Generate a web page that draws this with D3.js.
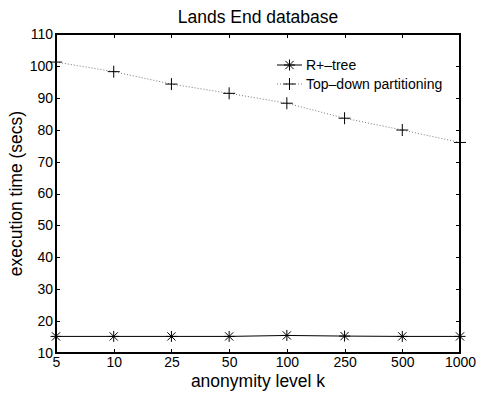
<!DOCTYPE html>
<html>
<head>
<meta charset="utf-8">
<script src="https://cdn.jsdelivr.net/npm/d3@7"></script>
<style>
  html, body { margin: 0; padding: 0; background: #fff; }
  svg { display: block; font-family: "Liberation Sans", Arial, sans-serif; }
</style>
</head>
<body>
<div id="chart"></div>
<script>
// data
var kLevels = ["5", "10", "25", "50", "100", "250", "500", "1000"];
var rtreeTimes = [15.2, 15.2, 15.2, 15.2, 15.5, 15.3, 15.2, 15.2];
var topDownTimes = [101.2, 98.2, 94.3, 91.4, 88.3, 83.6, 79.9, 76.0];
var yTicks = [10, 20, 30, 40, 50, 60, 70, 80, 90, 100, 110];

var width = 477, height = 393;
var plotLeft = 56, plotRight = 460, plotTop = 34, plotBottom = 353;

var svg = d3.select("#chart")
    .append("svg")
    .attr("width", width)
    .attr("height", height);

var x = d3.scalePoint()
    .domain(kLevels)
    .range([plotLeft, plotRight]);

var y = d3.scaleLinear()
    .domain([10, 110])
    .range([plotBottom, plotTop]);

//------------------- axes (ticks inside, matlab style) -------------------\\
var tickFont = 14;

var xAxis = svg.append("g")
    .attr("transform", "translate(0," + plotBottom + ")")
    .call(d3.axisBottom(x).tickSizeInner(-4).tickSizeOuter(0).tickPadding(4.5));
var xTop = svg.append("g")
    .attr("transform", "translate(0," + plotTop + ")")
    .call(d3.axisTop(x).tickSizeInner(-4).tickSizeOuter(0).tickFormat(""));
var yAxis = svg.append("g")
    .attr("transform", "translate(" + plotLeft + ",0)")
    .call(d3.axisLeft(y).tickValues(yTicks).tickSizeInner(-4).tickSizeOuter(0).tickPadding(3));
var yRight = svg.append("g")
    .attr("transform", "translate(" + plotRight + ",0)")
    .call(d3.axisRight(y).tickValues(yTicks).tickSizeInner(-4).tickSizeOuter(0).tickFormat(""));

[xAxis, xTop, yAxis, yRight].forEach(function(a) {
    a.select(".domain").remove();
    a.selectAll("line").attr("stroke", "#000").attr("shape-rendering", "crispEdges");
    a.selectAll("text")
        .attr("fill", "#000")
        .style("font-family", '"Liberation Sans", Arial, sans-serif')
        .style("font-size", tickFont + "px");
});

svg.append("rect")
    .attr("x", plotLeft)
    .attr("y", plotTop)
    .attr("width", plotRight - plotLeft)
    .attr("height", plotBottom - plotTop)
    .attr("fill", "none")
    .attr("stroke", "#000")
    .attr("stroke-width", 1.6)
    .attr("shape-rendering", "crispEdges");

//------------------- lines -------------------\\
var line = d3.line()
    .x(function(d) { return x(d.k); })
    .y(function(d) { return y(d.v); });

var rtree = kLevels.map(function(k, i) { return { k: k, v: rtreeTimes[i] }; });
var topDown = kLevels.map(function(k, i) { return { k: k, v: topDownTimes[i] }; });

svg.append("path")
    .datum(topDown)
    .attr("d", line)
    .attr("fill", "none")
    .attr("stroke", "#777")
    .attr("stroke-width", 1)
    .attr("stroke-dasharray", "1,2");

svg.append("path")
    .datum(rtree)
    .attr("d", line)
    .attr("fill", "none")
    .attr("stroke", "#000")
    .attr("stroke-width", 1);

// marker shapes
function plusPath(cx, cy, r) {
    return "M" + (cx - r) + "," + cy + "H" + (cx + r) + "M" + cx + "," + (cy - r) + "V" + (cy + r);
}
function starPath(cx, cy, r) {
    var d = r * 0.75;
    return plusPath(cx, cy, r) +
        "M" + (cx - d) + "," + (cy - d) + "L" + (cx + d) + "," + (cy + d) +
        "M" + (cx - d) + "," + (cy + d) + "L" + (cx + d) + "," + (cy - d);
}

svg.selectAll(".td-marker")
    .data(topDown)
    .join("path")
    .attr("class", "td-marker")
    .attr("d", function(d) { return plusPath(x(d.k), y(d.v), 6); })
    .attr("stroke", "#000")
    .attr("stroke-width", 1)
    .attr("fill", "none");

svg.selectAll(".rt-marker")
    .data(rtree)
    .join("path")
    .attr("class", "rt-marker")
    .attr("d", function(d) { return starPath(x(d.k), y(d.v), 5.5); })
    .attr("stroke", "#000")
    .attr("stroke-width", 1)
    .attr("fill", "none");

//------------------- legend -------------------\\
var legend = svg.append("g").attr("transform", "translate(277,0)");
var legendRows = [
    { name: "R+\u2013tree", y: 65, dash: null, color: "#000", marker: starPath, r: 5.5 },
    { name: "Top\u2013down partitioning", y: 84, dash: "1,2", color: "#777", marker: plusPath, r: 6 }
];
legendRows.forEach(function(row) {
    legend.append("line")
        .attr("x1", 0).attr("x2", 25)
        .attr("y1", row.y).attr("y2", row.y)
        .attr("stroke", row.color)
        .attr("stroke-dasharray", row.dash);
    legend.append("path")
        .attr("d", row.marker(12.5, row.y, row.r))
        .attr("stroke", "#000")
        .attr("fill", "none");
    legend.append("text")
        .attr("x", 29)
        .attr("y", row.y)
        .attr("dy", "0.35em")
        .style("font-size", "14px")
        .text(row.name);
});

//------------------- titles -------------------\\
svg.append("text")
    .attr("x", (plotLeft + plotRight) / 2)
    .attr("y", 22.5)
    .attr("text-anchor", "middle")
    .style("font-size", "17.5px")
    .text("Lands End database");

svg.append("text")
    .attr("x", (plotLeft + plotRight) / 2)
    .attr("y", 386.5)
    .attr("text-anchor", "middle")
    .style("font-size", "17.5px")
    .text("anonymity level k");

svg.append("text")
    .attr("transform", "translate(22," + (plotTop + plotBottom) / 2 + ") rotate(-90)")
    .attr("text-anchor", "middle")
    .style("font-size", "17.5px")
    .text("execution time (secs)");
</script>
</body>
</html>
